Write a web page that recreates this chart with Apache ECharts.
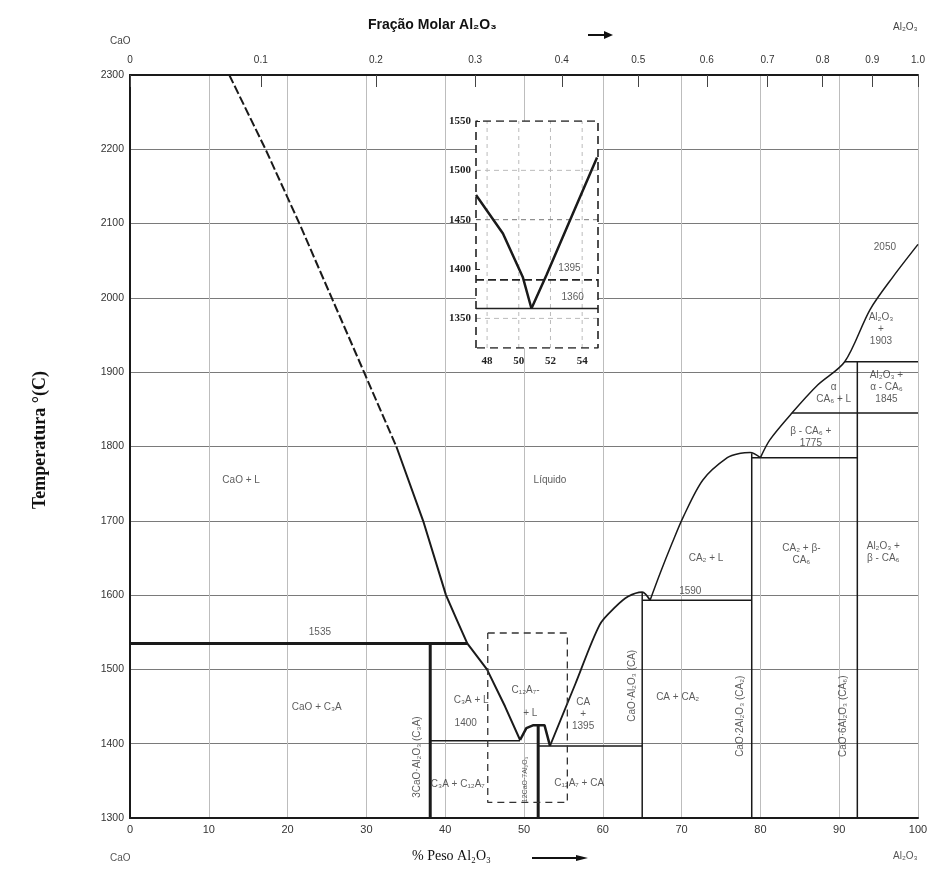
<!DOCTYPE html>
<html><head><meta charset="utf-8">
<script src="https://cdn.jsdelivr.net/npm/echarts@6/dist/echarts.min.js"></script>
<style>html,body{margin:0;padding:0;background:#fff}#c{width:945px;height:870px}</style>
</head><body><div id="c"></div><script>
// ---- axis ticks ----
const wtTicks = [0,10,20,30,40,50,60,70,80,90,100];
const tempTicks = [1300,1400,1500,1600,1700,1800,1900,2000,2100,2200,2300];
const moleLabels = ['0','0.1','0.2','0.3','0.4','0.5','0.6','0.7','0.8','0.9','1.0'];
const moleAtWt = [0,16.6,31.2,43.8,54.8,64.5,73.2,80.9,87.9,94.2,100];
const insetWtTicks = [48,50,52,54];
const insetTempTicks = [1350,1400,1450,1500,1550];

// ---- phase boundaries (wt% Al2O3, °C) ----
const liqCaODashed = [[12.6,2300],[17.2,2200],[21.5,2100],[25.6,2000],[29.7,1900],[33.8,1800]];
const liqCaOSolid = [[33.8,1800],[37.2,1700],[40.1,1600],[41.5,1566],[42.8,1535],[45.3,1500],[47.6,1450],[49.5,1405]];
const liqC12A7 = [[49.5,1405],[50.3,1421],[51.2,1425],[52.6,1425],[53.3,1397]];
const liqCA = [[53.3,1397],[56.5,1480],[59.6,1560],[61.5,1583],[63.2,1598],[65.0,1604],[66.0,1593]];
const liqCA2 = [[66.0,1593],[67.3,1630],[68.8,1670],[70.2,1705],[72.7,1755],[75.8,1785],[77.5,1791],[78.7,1792],[80.0,1785]];
const liqAl2O3 = [[80.0,1785],[81.2,1809],[84.0,1845],[87.3,1883],[90.7,1914],[93.9,1984],[96.8,2028],[100,2072]];
const thickLines = [
  [[0,1535],[42.8,1535]],
  [[38.1,1535],[38.1,1300]],
  [[51.8,1425],[51.8,1300]]
];
const thinLines = [
  [[38.1,1404],[49.5,1404]],
  [[51.8,1397],[65.0,1397]],
  [[65.0,1604],[65.0,1300]],
  [[65.0,1593],[78.9,1593]],
  [[78.9,1791],[78.9,1300]],
  [[78.9,1785],[92.3,1785]],
  [[84.0,1845],[100,1845]],
  [[92.3,1914],[92.3,1300]],
  [[90.7,1914],[100,1914]]
];
const dashedBox = [[45.4,1549],[55.5,1549],[55.5,1321],[45.4,1321],[45.4,1549]];

// ---- inset (enlarged eutectic region) ----
const insetLeft = [[47.3,1475],[49.0,1436],[50.25,1392],[50.8,1360]];
const insetRight = [[50.8,1360],[51.75,1394],[53.3,1452],[54.94,1513]];
const insetDashLine = [[47.3,1389],[55,1389]];
const insetSolidLine = [[47.3,1360],[55,1360]];
const insetBox = [[47.3,1320],[47.3,1550],[55,1550],[55,1320],[47.3,1320]];

// ---- region labels [text, wt, T, fontSize] ----
const regionLabels = [
  ['CaO + L',14.1,1755],
  ['Líquido',53.3,1755],
  ['1535',24.1,1550],
  ['CaO + C₃A',23.7,1449],
  ['C₃A + L',43.3,1459],
  ['1400',42.6,1428],
  ['C₁₂A₇-',50.2,1472],
  ['+ L',50.8,1441],
  ['CA\n+\n1395',57.5,1440],
  ['C₃A + C₁₂A₇',41.6,1345],
  ['C₁₂A₇ + CA',57.0,1347],
  ['CA + CA₂',69.5,1463],
  ['CA₂ + L',73.1,1650],
  ['1590',71.1,1605],
  ['CA₂ + β-\nCA₆',85.2,1655],
  ['Al₂O₃ +\nβ - CA₆',95.6,1658],
  ['α\nCA₆ + L',89.3,1872],
  ['β - CA₆ +\n1775',86.4,1812],
  ['Al₂O₃ +\nα - CA₆\n1845',96.0,1880],
  ['Al₂O₃\n+\n1903',95.3,1958],
  ['2050',95.8,2068]
];
const verticalLabels = [
  ['3CaO·Al₂O₃ (C₃A)',36.4,1382,10],
  ['12CaO·7Al₂O₃',50.1,1352,7],
  ['CaO·Al₂O₃ (CA)',63.7,1478,10],
  ['CaO·2Al₂O₃ (CA₂)',77.4,1437,10],
  ['CaO·6Al₂O₃ (CA₆)',90.5,1437,10]
];
const insetLabels = [['1395',53.2,1401],['1360',53.4,1371]];

const chart = echarts.init(document.getElementById('c'));
const INK = '#1a1a1a';
function line(data, width, type, xi, yi, color, z, smooth) {
  return {type:'line', data:data, xAxisIndex:xi||0, yAxisIndex:yi||0, symbol:'none', silent:true,
    z: z||3, animation:false, smooth: smooth||false,
    lineStyle:{color:color||INK, width:width, type:type||'solid'}};
}
const series = [];
series.push(line(liqCaODashed,2,[9,3]));
series.push(line(liqCaOSolid,2));
series.push(line(liqC12A7,2.5));
series.push(line(liqCA,1.8,'solid',0,0,INK,3,0.3));
series.push(line(liqCA2,1.5,'solid',0,0,INK,3,0.3));
series.push(line(liqAl2O3,1.5,'solid',0,0,INK,3,0.3));
thickLines.forEach(d=>series.push(line(d,3)));
thinLines.forEach(d=>series.push(line(d,1.5)));
series.push(line(dashedBox,1.3,[7,5],0,0,'#333'));
// inset grid lines
insetWtTicks.forEach(v=>series.push(line([[v,1320],[v,1550]],1,[4,4],2,2,'#bbb',4)));
[1450,1500].forEach(v=>series.push(line([[47.3,v],[55,v]],1,[5,4],2,2,v===1450?'#777':'#bbb',4)));
series.push(line([[47.3,1350],[55,1350]],1,[5,4],2,2,'#bbb',4));
series.push(line(insetBox,1.6,[8,5],2,2,'#222',5));
series.push(line(insetDashLine,1.6,[8,4],2,2,'#222',5));
series.push(line(insetSolidLine,1.6,'solid',2,2,'#222',5));
series.push(line(insetLeft,2.5,'solid',2,2,INK,6));
series.push(line(insetRight,2.5,'solid',2,2,INK,6));

function labelSeries(arr, xi, yi, rot) {
  return {type:'scatter', xAxisIndex:xi, yAxisIndex:yi, symbolSize:1, silent:true, animation:false, z:7,
    itemStyle:{color:'rgba(0,0,0,0)'},
    data: arr.map(a=>({value:[a[1],a[2]], label:{show:true, position:'inside', formatter:a[0],
      rotate: rot||0, fontSize: a[3]|| 10, color:'#333', lineHeight:12,
      fontFamily:'Liberation Sans, Arial, sans-serif'}}))};
}
series.push(labelSeries(regionLabels,0,0,0));
series.push(labelSeries(verticalLabels,0,0,90));
series.push(labelSeries(insetLabels.map(a=>[a[0],a[1],a[2],10]),2,2,0));

const plain = v => String(v);
const axisFont = {fontSize:10, color:'#333', fontFamily:'Liberation Sans, Arial, sans-serif'};
const option = {
  backgroundColor:'#fff',
  animation:false,
  grid:[
    {left:130, top:75, width:788, height:743, z:0},
    {left:476, top:121, width:122, height:227, show:true, backgroundColor:'#fff', borderWidth:0, z:1}
  ],
  xAxis:[
    {type:'value', gridIndex:0, min:0, max:100, interval:10, position:'bottom',
      axisLine:{lineStyle:{color:INK, width:2}}, axisTick:{show:false},
      axisLabel:Object.assign({}, axisFont, {margin:6, fontSize:11, formatter:plain}),
      splitLine:{show:true, lineStyle:{color:'#bdbdbd', width:1}}},
    {type:'value', gridIndex:0, min:0, max:100, position:'top',
      axisLine:{lineStyle:{color:INK, width:2}},
      axisTick:{show:true, inside:true, length:12, customValues:moleAtWt, lineStyle:{color:'#444', width:1}},
      axisLabel:Object.assign({margin:10, customValues:moleAtWt,
        formatter:(v)=>{const i=moleAtWt.findIndex(m=>Math.abs(m-v)<1e-6); return i>=0?moleLabels[i]:'';}}, axisFont),
      splitLine:{show:false}},
    {type:'value', gridIndex:1, min:47.3, max:55, z:3,
      axisLine:{show:false}, axisTick:{show:false},
      axisLabel:Object.assign({}, axisFont, {margin:8, customValues:insetWtTicks, formatter:plain, fontFamily:'Liberation Serif, serif', fontWeight:'bold', fontSize:11, color:'#222'}),
      splitLine:{show:false}}
  ],
  yAxis:[
    {type:'value', gridIndex:0, min:1300, max:2300, interval:100,
      axisLine:{show:true, lineStyle:{color:INK, width:2}}, axisTick:{show:false},
      axisLabel:Object.assign({}, axisFont, {margin:6, fontSize:10.5, formatter:plain}),
      splitLine:{show:true, lineStyle:{color:'#7a7a7a', width:1}}},
    {type:'value', gridIndex:0, min:1300, max:2300, position:'right',
      axisLine:{show:true, lineStyle:{color:INK, width:2}}, axisTick:{show:false},
      axisLabel:{show:false}, splitLine:{show:false}},
    {type:'value', gridIndex:1, min:1320, max:1550, z:3,
      axisLine:{show:false},
      axisTick:{show:true, inside:true, length:4, customValues:insetTempTicks, lineStyle:{color:'#222'}},
      axisLabel:Object.assign({}, axisFont, {margin:5, customValues:insetTempTicks, formatter:plain, fontFamily:'Liberation Serif, serif', fontWeight:'bold', fontSize:11, color:'#222'}),
      splitLine:{show:false}}
  ],
  series: series,
  graphic:[
    {type:'text', left:368, top:18, style:{text:'Fração Molar Al₂O₃', font:'bold 14px "Liberation Sans", Arial, sans-serif', fill:'#111'}},
    {type:'line', shape:{x1:588,y1:35,x2:606,y2:35}, style:{stroke:'#111', lineWidth:2}},
    {type:'polygon', shape:{points:[[604,31],[613,35],[604,39]]}, style:{fill:'#111'}},
    {type:'text', left:110, top:36, style:{text:'CaO', font:'10px "Liberation Sans", sans-serif', fill:'#444'}},
    {type:'text', left:893, top:22, style:{text:'Al₂O₃', font:'10px "Liberation Sans", sans-serif', fill:'#444'}},
    {type:'text', x:40, y:440, rotation:Math.PI/2, style:{text:'Temperatura °(C)', font:'bold 18px "Liberation Serif", "Times New Roman", serif', fill:'#111', align:'center', verticalAlign:'middle'}},
    {type:'text', left:412, top:849, style:{text:'% Peso Al₂O₃', font:'14px "Liberation Serif", "Times New Roman", serif', fill:'#111'}},
    {type:'line', shape:{x1:532,y1:858,x2:582,y2:858}, style:{stroke:'#111', lineWidth:2}},
    {type:'polygon', shape:{points:[[576,855],[588,858],[576,861]]}, style:{fill:'#111'}},
    {type:'text', left:110, top:853, style:{text:'CaO', font:'10px "Liberation Sans", sans-serif', fill:'#555'}},
    {type:'text', left:893, top:851, style:{text:'Al₂O₃', font:'10px "Liberation Sans", sans-serif', fill:'#555'}}
  ]
};
chart.setOption(option);
</script></body></html>
